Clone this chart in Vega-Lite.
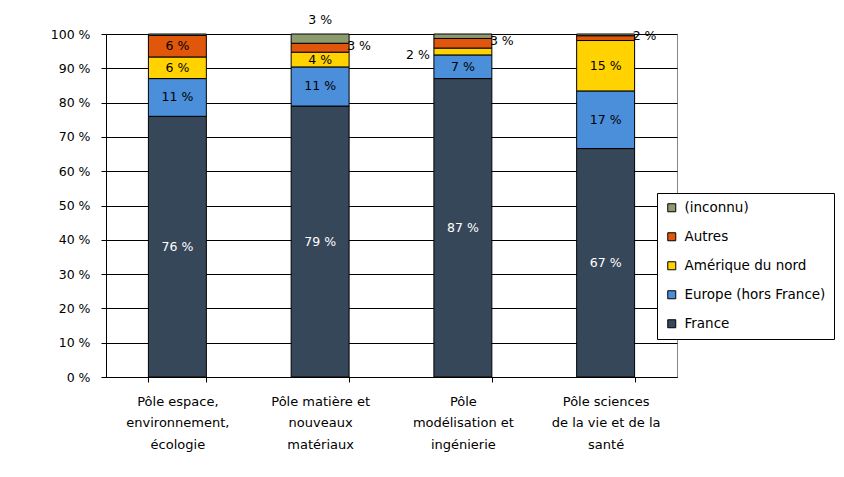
{
  "$schema": "https://vega.github.io/schema/vega-lite/v6.json",
  "autosize": {"type": "none"},
  "width": 571,
  "height": 343,
  "padding": {"left": 106, "top": 34, "right": 167, "bottom": 100},
  "background": "white",
  "config": {
    "font": "DejaVu Sans",
    "view": {"stroke": "#888888", "strokeWidth": 1},
    "axis": {"labelFont": "DejaVu Sans", "labelFontSize": 12.5, "labelColor": "#000000"}
  },
  "data": {
    "values": [
      {"pole": "Pôle espace,|environnement,|écologie", "origine": "France", "ordre": 1, "pct": 76, "label": "76 %", "pos": "cw"},
      {"pole": "Pôle espace,|environnement,|écologie", "origine": "Europe (hors France)", "ordre": 2, "pct": 11, "label": "11 %", "pos": "c"},
      {"pole": "Pôle espace,|environnement,|écologie", "origine": "Amérique du nord", "ordre": 3, "pct": 6.3, "label": "6 %", "pos": "c"},
      {"pole": "Pôle espace,|environnement,|écologie", "origine": "Autres", "ordre": 4, "pct": 6.3, "label": "6 %", "pos": "c"},
      {"pole": "Pôle espace,|environnement,|écologie", "origine": "(inconnu)", "ordre": 5, "pct": 0.4, "label": "", "pos": "none"},
      {"pole": "Pôle matière et|nouveaux|matériaux", "origine": "France", "ordre": 1, "pct": 79, "label": "79 %", "pos": "cw"},
      {"pole": "Pôle matière et|nouveaux|matériaux", "origine": "Europe (hors France)", "ordre": 2, "pct": 11.4, "label": "11 %", "pos": "c"},
      {"pole": "Pôle matière et|nouveaux|matériaux", "origine": "Amérique du nord", "ordre": 3, "pct": 4.3, "label": "4 %", "pos": "c"},
      {"pole": "Pôle matière et|nouveaux|matériaux", "origine": "Autres", "ordre": 4, "pct": 2.6, "label": "3 %", "pos": "right"},
      {"pole": "Pôle matière et|nouveaux|matériaux", "origine": "(inconnu)", "ordre": 5, "pct": 2.7, "label": "3 %", "pos": "above"},
      {"pole": "Pôle|modélisation et|ingénierie", "origine": "France", "ordre": 1, "pct": 87, "label": "87 %", "pos": "cw"},
      {"pole": "Pôle|modélisation et|ingénierie", "origine": "Europe (hors France)", "ordre": 2, "pct": 6.9, "label": "7 %", "pos": "c"},
      {"pole": "Pôle|modélisation et|ingénierie", "origine": "Amérique du nord", "ordre": 3, "pct": 2.0, "label": "2 %", "pos": "left"},
      {"pole": "Pôle|modélisation et|ingénierie", "origine": "Autres", "ordre": 4, "pct": 2.8, "label": "3 %", "pos": "right"},
      {"pole": "Pôle|modélisation et|ingénierie", "origine": "(inconnu)", "ordre": 5, "pct": 1.3, "label": "", "pos": "none"},
      {"pole": "Pôle sciences|de la vie et de la|santé", "origine": "France", "ordre": 1, "pct": 66.6, "label": "67 %", "pos": "cw"},
      {"pole": "Pôle sciences|de la vie et de la|santé", "origine": "Europe (hors France)", "ordre": 2, "pct": 16.8, "label": "17 %", "pos": "c"},
      {"pole": "Pôle sciences|de la vie et de la|santé", "origine": "Amérique du nord", "ordre": 3, "pct": 14.7, "label": "15 %", "pos": "c"},
      {"pole": "Pôle sciences|de la vie et de la|santé", "origine": "Autres", "ordre": 4, "pct": 1.4, "label": "2 %", "pos": "right"},
      {"pole": "Pôle sciences|de la vie et de la|santé", "origine": "(inconnu)", "ordre": 5, "pct": 0.5, "label": "", "pos": "none"}
    ]
  },
  "transform": [
    {"stack": "pct", "groupby": ["pole"], "sort": [{"field": "ordre", "order": "ascending"}], "as": ["v0", "v1"]},
    {"calculate": "(datum.v0 + datum.v1) / 2", "as": "mid"}
  ],
  "encoding": {
    "x": {
      "field": "pole", "type": "nominal", "sort": null, "title": null,
      "scale": {"paddingInner": 0.594, "paddingOuter": 0.297},
      "axis": {
        "labelAngle": 0, "labelExpr": "split(datum.label, '|')", "labelLineHeight": 21.5,
        "labelPadding": 13, "tickBand": "extent", "tickExtra": true, "tickSize": 5,
        "tickColor": "#000000", "domainColor": "#000000", "grid": false, "labelBaseline": "top",
        "labelFontSize": 13
      }
    },
    "y": {
      "field": "v1", "type": "quantitative", "title": null,
      "scale": {"domain": [0, 100], "nice": false},
      "axis": {
        "values": [0, 10, 20, 30, 40, 50, 60, 70, 80, 90, 100], "tickCount": 11, "labelOverlap": false,
        "labelExpr": "datum.value + ' %'", "grid": true, "gridColor": "#000000",
        "gridOpacity": 1, "tickColor": "#000000", "tickSize": 5, "domainColor": "#000000",
        "labelPadding": 11
      }
    }
  },
  "layer": [
    {
      "mark": {"type": "bar", "stroke": "#000000", "strokeWidth": 1},
      "encoding": {
        "y2": {"field": "v0"},
        "color": {
          "field": "origine", "type": "nominal", "title": null,
          "scale": {
            "domain": ["(inconnu)", "Autres", "Amérique du nord", "Europe (hors France)", "France"],
            "range": ["#8E9B6E", "#E0560A", "#FFD200", "#4B8FDB", "#37475A"]
          },
          "legend": {
            "orient": "none", "legendX": 551, "legendY": 159, "direction": "vertical",
            "symbolType": "square", "symbolSize": 64, "symbolStrokeColor": "#000000", "symbolStrokeWidth": 1,
            "labelFontSize": 13.5, "labelFont": "DejaVu Sans", "labelColor": "#000000",
            "rowPadding": 14, "padding": 8, "strokeColor": "#000000", "fillColor": "#ffffff",
            "labelOffset": 6, "labelLimit": 300
          }
        }
      }
    },
    {
      "transform": [{"filter": "datum.pos == 'c' || datum.pos == 'cw'"}],
      "mark": {"type": "text", "fontSize": 12.5, "font": "DejaVu Sans", "baseline": "middle"},
      "encoding": {
        "y": {"field": "mid", "type": "quantitative"},
        "text": {"field": "label"},
        "color": {"condition": {"test": "datum.pos == 'cw'", "value": "#ffffff"}, "value": "#000000"}
      }
    },
    {
      "transform": [{"filter": "datum.pos == 'right'"}],
      "mark": {"type": "text", "fontSize": 12.5, "font": "DejaVu Sans", "align": "left", "baseline": "middle", "dx": 27, "dy": -2, "color": "#000000"},
      "encoding": {
        "y": {"field": "mid", "type": "quantitative"},
        "text": {"field": "label"}
      }
    },
    {
      "transform": [{"filter": "datum.pos == 'left'"}],
      "mark": {"type": "text", "fontSize": 12.5, "font": "DejaVu Sans", "align": "right", "baseline": "middle", "dx": -33, "dy": 4, "color": "#000000"},
      "encoding": {
        "y": {"field": "mid", "type": "quantitative"},
        "text": {"field": "label"}
      }
    },
    {
      "transform": [{"filter": "datum.pos == 'above'"}],
      "mark": {"type": "text", "fontSize": 12.5, "font": "DejaVu Sans", "align": "center", "baseline": "bottom", "dy": -7, "color": "#000000", "clip": false},
      "encoding": {
        "text": {"field": "label"}
      }
    }
  ]
}
